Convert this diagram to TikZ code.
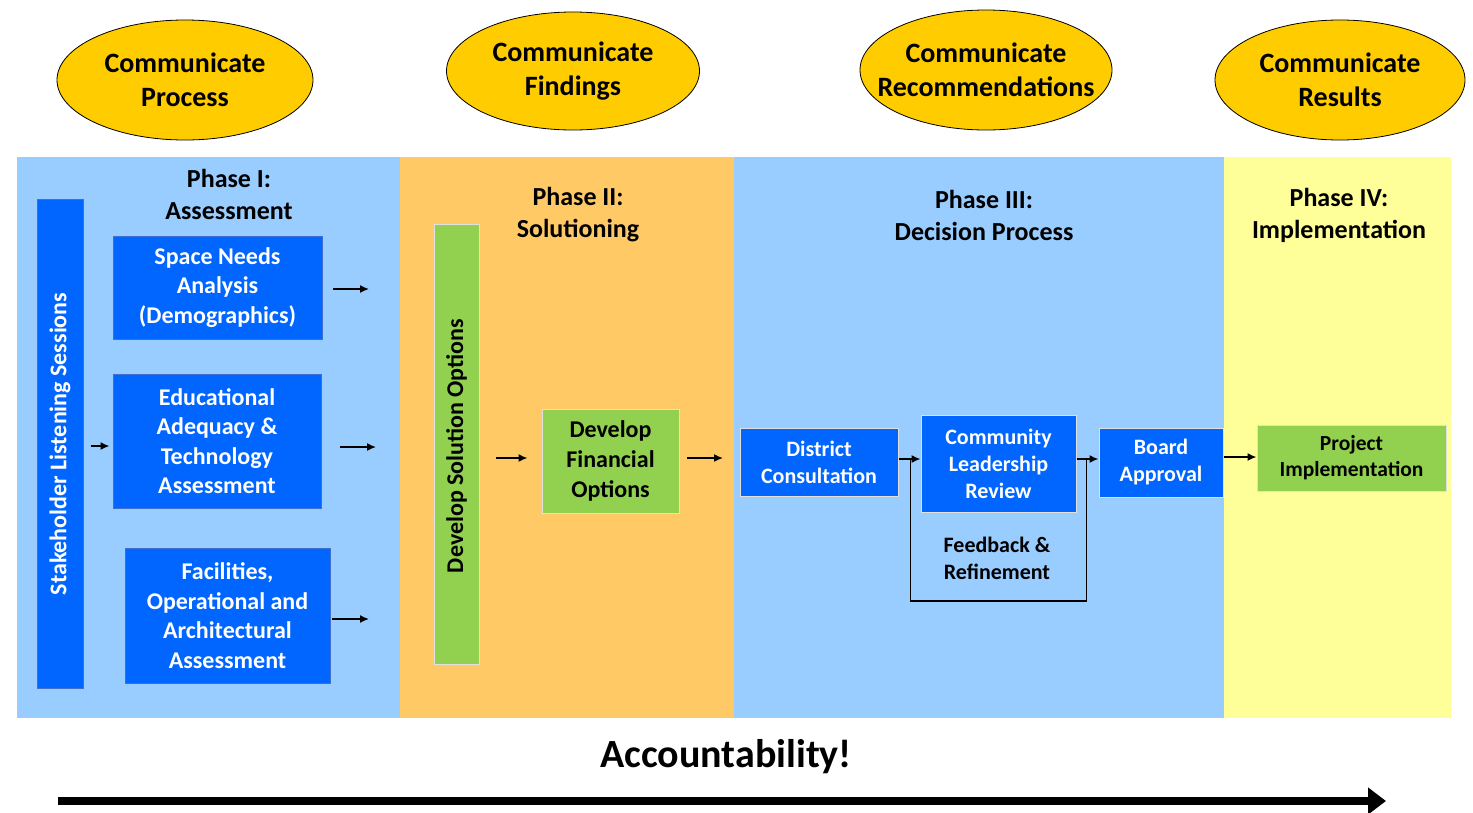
\documentclass[tikz,border=0pt]{standalone}
\usepackage{fontspec}
\setmainfont{Carlito}
\usetikzlibrary{arrows.meta,shapes.geometric}
\definecolor{panelblue}{HTML}{99CCFF}
\definecolor{panelorange}{HTML}{FFC966}
\definecolor{panelyellow}{HTML}{FFFF99}
\definecolor{ellgold}{HTML}{FFCC00}
\definecolor{boxblue}{HTML}{0066FF}
\definecolor{boxblueedge}{HTML}{3F6FD0}
\definecolor{boxgreen}{HTML}{92D050}
\definecolor{greenedge}{HTML}{E0E0E0}
\begin{document}
\begin{tikzpicture}[x=1pt,y=-1pt,
  ell/.style={ellipse, draw=black, line width=0.8pt, fill=ellgold, inner sep=0pt,
    align=center, font=\bfseries\fontsize{28}{34.5}\selectfont},
  title/.style={align=center, inner sep=0pt, font=\bfseries\fontsize{26}{32}\selectfont},
  bluebox/.style={draw=boxblueedge, fill=boxblue, line width=1pt, text=white, inner sep=0pt,
    align=center, font=\bfseries\fontsize{24}{29.5}\selectfont},
  smallblue/.style={bluebox, draw=greenedge, font=\bfseries\fontsize{22}{27}\selectfont},
  greenbox/.style={draw=greenedge, fill=boxgreen, line width=1pt, text=black, inner sep=0pt,
    align=center, font=\bfseries\fontsize{24}{30}\selectfont},
  note/.style={align=center, inner sep=0pt, font=\bfseries\fontsize{22}{27}\selectfont},
  arr/.style={line width=1.5pt, -{Latex[length=9pt,width=8pt]}},
  loopline/.style={line width=1.5pt}
]
\useasboundingbox (0,0) rectangle (1473,812);
\fill[white] (0,0) rectangle (1473,812);
% phase panels
\fill[panelblue] (17,157) rectangle (400,718);
\fill[panelorange] (400,157) rectangle (734,718);
\fill[panelblue] (734,157) rectangle (1224,718);
\fill[panelyellow] (1224,157) rectangle (1451,718);
% ellipses
\node[ell, minimum width=256, minimum height=120] (e1) at (185,80) {Communicate\\Process};
\node[ell, minimum width=253, minimum height=118] (e2) at (573,71) {Communicate\\Findings};
\node[ell, minimum width=252, minimum height=120, inner xsep=-22pt] (e3) at (986,70) {Communicate\\Recommendations};
\node[ell, minimum width=250, minimum height=120] (e4) at (1340,80) {Communicate\\Results};
% phase titles
\node[title] (t1) at (229,194) {Phase I:\\Assessment};
\node[title] (t2) at (578,215) {Phase II:\\Solutioning};
\node[title] (t3) at (984,215) {Phase III:\\Decision Process};
\node[title] (t4) at (1339,215) {Phase IV:\\Implementation};
% phase I
\node[bluebox, minimum width=46, minimum height=489] (stake) at (60,443.5) {};
\node[text=white, rotate=90, inner sep=0pt, font=\bfseries\fontsize{24}{29}\selectfont] (staket) at (60,444) {Stakeholder Listening Sessions};
\node[bluebox, minimum width=209, minimum height=103] (space) at (217.5,287.5) {Space Needs\\Analysis\\(Demographics)};
\node[bluebox, minimum width=208, minimum height=134] (edu) at (217,441) {Educational\\Adequacy \&\\Technology\\Assessment};
\node[bluebox, minimum width=205, minimum height=135] (fac) at (227.5,615.5) {Facilities,\\Operational and\\Architectural\\Assessment};
\draw[arr, shorten <=7pt, shorten >=3pt] (stake.east |- 0,446) -- (edu.west |- 0,446);
\coordinate (s1) at (333,289); \coordinate (s2) at (369,289);
\coordinate (d1) at (340,447); \coordinate (d2) at (376,447);
\coordinate (f1) at (332,619); \coordinate (f2) at (369,619);
\draw[arr] (s1) -- (s2);
\draw[arr] (d1) -- (d2);
\draw[arr] (f1) -- (f2);
% phase II
\node[greenbox, minimum width=45, minimum height=440] (sol) at (456.5,444) {};
\node[rotate=90, inner sep=0pt, font=\bfseries\fontsize{24}{29}\selectfont] (solt) at (456.5,446) {Develop Solution Options};
\node[greenbox, minimum width=137, minimum height=104] (fin) at (610.5,461) {Develop\\Financial\\Options};
\draw[arr, shorten <=16pt, shorten >=14pt] (sol.east |- 0,458) -- (fin.west |- 0,458);
\coordinate (g1) at (687,458); \coordinate (g2) at (723,458);
\draw[arr] (g1) -- (g2);
% phase III
\node[smallblue, minimum width=158, minimum height=68] (dist) at (819,462) {District\\Consultation};
\node[smallblue, minimum width=155, minimum height=97] (comm) at (998.5,463.5) {Community\\Leadership\\Review};
\node[smallblue, minimum width=124, minimum height=69] (board) at (1161,462.5) {Board\\Approval};
\draw[arr] (dist.east |- 0,459) -- (comm.west |- 0,459);
\draw[arr] (comm.east |- 0,459) -- (board.west |- 0,459);
\draw[loopline] ([xshift=12pt]dist.east |- 0,459) -- ++(0,142) -| ([xshift=10pt]comm.east |- 0,459);
\node[note] (fb) at (997,558) {Feedback \&\\Refinement};
% phase IV
\node[greenbox, minimum width=189, minimum height=66, font=\bfseries\fontsize{21.5}{26}\selectfont] (proj) at (1351.5,458) {Project\\Implementation};
\draw[arr] (board.east |- 0,457) -- (proj.west |- 0,457);
% accountability
\node[inner sep=0pt, font=\bfseries\fontsize{40}{48}\selectfont] (acc) at (726,757) {Accountability!};
\coordinate (b1) at (58,801); \coordinate (b2) at (1386,801);
\draw[line width=8pt, -{Triangle[length=18pt,width=26pt]}] (b1) -- (b2);
\end{tikzpicture}
\end{document}
